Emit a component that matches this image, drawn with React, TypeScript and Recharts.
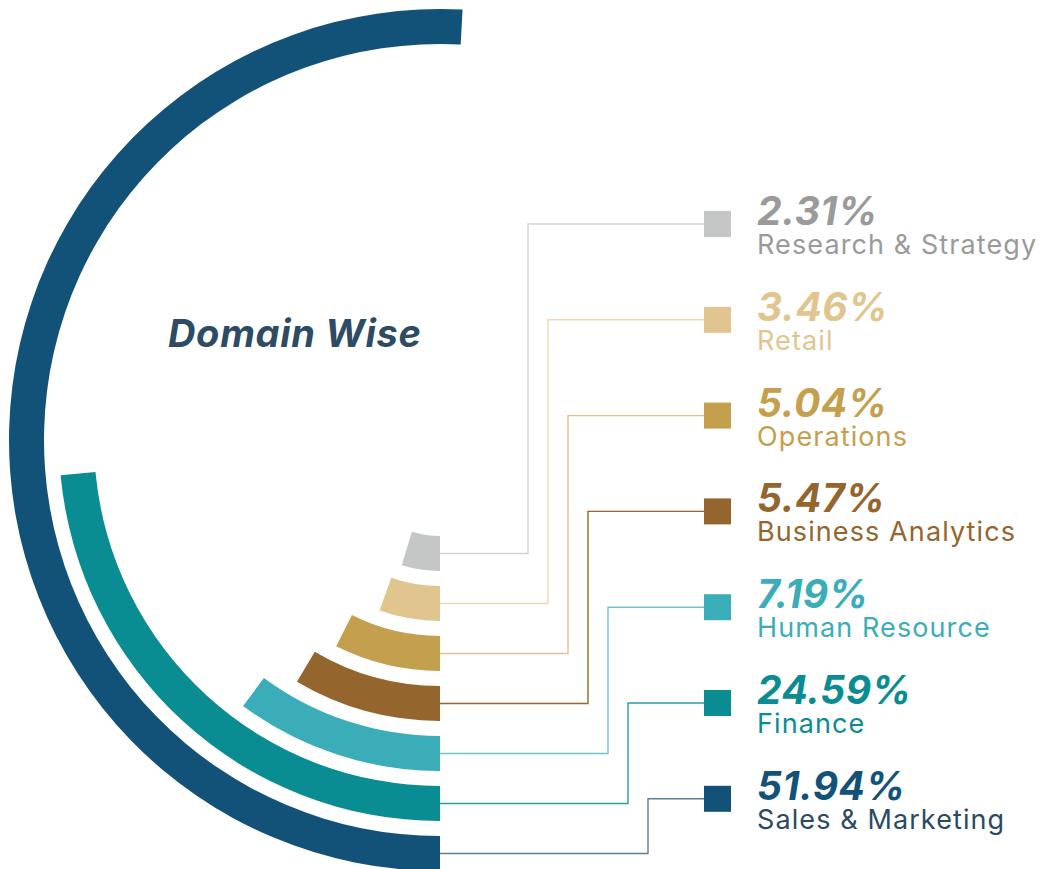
import React from 'react';
import { RadialBarChart, RadialBar, PolarAngleAxis, Sector } from 'recharts';

// innermost ring first
const categories = [
  'Research & Strategy',
  'Retail',
  'Operations',
  'Business Analytics',
  'Human Resource',
  'Finance',
  'Sales & Marketing',
];
const shares = ['2.31%', '3.46%', '5.04%', '5.47%', '7.19%', '24.59%', '51.94%'];
// sweep of each ring as drawn in the picture, in degrees clockwise from 6 o'clock
const arcDegrees = [17, 19.5, 26.7, 30.6, 36.5, 84.7, 183];

const barColors = ['#C5C7C6', '#E1C58F', '#C4A04E', '#94652D', '#3AADB8', '#0A8C93', '#135278'];
const pctColors = ['#9A9A9A', '#E1C58F', '#C4A04E', '#94652D', '#3AADB8', '#0A8C93', '#135278'];
const nameColors = ['#9A9A9A', '#E1C58F', '#C4A04E', '#94652D', '#3AADB8', '#0A8C93', '#2B4A62'];
const lineColors = ['#D2D2D2', '#EBD9B6', '#DCC28C', '#94652D', '#74C3CB', '#2C9CA2', '#5C7F98'];

const data = categories.map((name, i) => ({ name, arc: arcDegrees[i] }));

const W = 1044;
const H = 869;
const LEGEND_Y0 = 224;
const LEGEND_STEP = 95.8;
const ELBOW_X0 = 528;
const ELBOW_STEP = 20;
const SQ_X = 704;
const TEXT_X = 757;
const FONT = 'Inter, "Noto Sans", sans-serif';

function RingWithLegend(props: any) {
  const { cx, cy, innerRadius, outerRadius, startAngle, endAngle } = props;
  const name = props.payload?.name ?? props.name;
  const i = categories.indexOf(name);
  const midR = (innerRadius + outerRadius) / 2;
  const y0 = cy + midR;
  const ly = LEGEND_Y0 + i * LEGEND_STEP;
  const ex = ELBOW_X0 + i * ELBOW_STEP;
  return (
    <g>
      <Sector
        cx={cx}
        cy={cy}
        innerRadius={innerRadius}
        outerRadius={outerRadius}
        startAngle={startAngle}
        endAngle={endAngle}
        fill={barColors[i]}
      />
      <polyline
        points={`${cx},${y0} ${ex},${y0} ${ex},${ly} ${SQ_X},${ly}`}
        fill="none"
        stroke={lineColors[i]}
        strokeWidth={1.4}
      />
      <rect x={SQ_X} y={ly - 13} width={27} height={26} fill={barColors[i]} />
      <text
        x={TEXT_X}
        y={ly + 1}
        fill={pctColors[i]}
        fontFamily={FONT}
        fontSize={39}
        fontWeight={700}
        fontStyle="italic"
        letterSpacing={0.5}
      >
        {shares[i]}
      </text>
      <text x={TEXT_X} y={ly + 30} fill={nameColors[i]} fontFamily={FONT} fontSize={27} letterSpacing={1.1}>
        {name}
      </text>
    </g>
  );
}

export default function App() {
  return (
    <div style={{ position: 'absolute', left: 0, top: 0, width: W, height: H, background: '#fff' }}>
      <RadialBarChart
        width={W}
        height={H}
        cx={440}
        cy={440}
        innerRadius={88}
        outerRadius={438}
        barSize={35}
        startAngle={-90}
        endAngle={-450}
        data={data}
        margin={{ top: 0, right: 0, bottom: 0, left: 0 }}
      >
        <PolarAngleAxis type="number" domain={[0, 360]} tick={false} axisLine={false} />
        <RadialBar dataKey="arc" isAnimationActive={false} shape={RingWithLegend} />
      </RadialBarChart>
      <svg width={W} height={H} style={{ position: 'absolute', left: 0, top: 0, pointerEvents: 'none' }}>
        <text
          x={168}
          y={347}
          fill="#2D4B64"
          fontFamily={FONT}
          fontSize={38}
          fontWeight={700}
          fontStyle="italic"
          letterSpacing={0.7}
        >
          Domain Wise
        </text>
      </svg>
    </div>
  );
}
